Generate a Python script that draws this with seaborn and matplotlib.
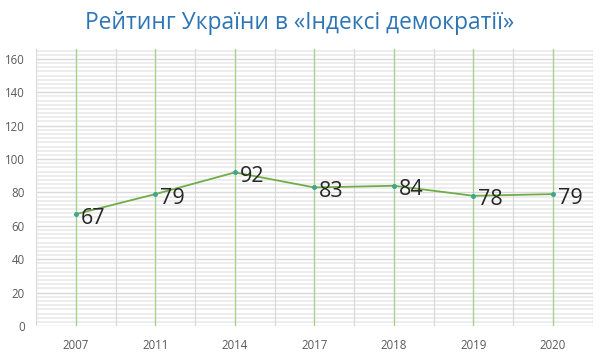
import matplotlib
matplotlib.use("Agg")
import matplotlib.pyplot as plt
from matplotlib.ticker import MultipleLocator
import seaborn as sns
import pandas as pd

# Données du graphique
years = ["2007", "2011", "2014", "2017", "2018", "2019", "2020"]
ranks = [67, 79, 92, 83, 84, 78, 79]

df = pd.DataFrame({"year": years, "rank": ranks})

sns.set_theme(style="white")
plt.rcParams["font.family"] = ["Open Sans", "DejaVu Sans"]

fig = plt.figure(figsize=(6, 3.54), dpi=100)
ax = fig.add_axes([0.06, 0.079, 0.928, 0.783])

sns.lineplot(data=df, x="year", y="rank", sort=False, color="#70AD47",
             linewidth=1.3, marker="o", markersize=2.8,
             markerfacecolor="#3FA68C", markeredgecolor="#3FA68C",
             ax=ax, zorder=3)

# Étiquettes de valeurs
for i, v in enumerate(ranks):
    ax.annotate(str(v), (i, v), xytext=(3.5, -3), textcoords="offset points",
                ha="left", va="center", fontsize=15.5, color="#262626",
                zorder=4)

ax.set_xlim(-0.5, len(years) - 0.5)
ax.set_ylim(0, 166)
ax.yaxis.set_major_locator(MultipleLocator(20))
ax.yaxis.set_minor_locator(MultipleLocator(2.5))

# Grilles : horizontales grises, verticales vertes aux catégories
ax.grid(axis="y", which="major", color="#D9D9D9", linewidth=1.0)
ax.grid(axis="y", which="minor", color="#EDEDED", linewidth=1.4)
ax.set_axisbelow(True)
for i in range(len(years) + 1):
    ax.axvline(i - 0.5, color="#D9D9D9", linewidth=0.9, zorder=1)
for i in range(len(years)):
    ax.axvline(i, color="#A9D18E", linewidth=1.0, zorder=1)

for s in ax.spines.values():
    s.set_visible(False)

ax.tick_params(axis="both", which="both", length=0, labelsize=8.3,
               labelcolor="#595959")
ax.tick_params(axis="x", pad=9)
ax.tick_params(axis="y", pad=8)
ax.set_xlabel("")
ax.set_ylabel("")

fig.text(0.5, 0.935, "Рейтинг України в «Індексі демократії»", ha="center",
         va="center", fontsize=16.4, color="#2E75B6")

fig.savefig("out.png", dpi=100)
